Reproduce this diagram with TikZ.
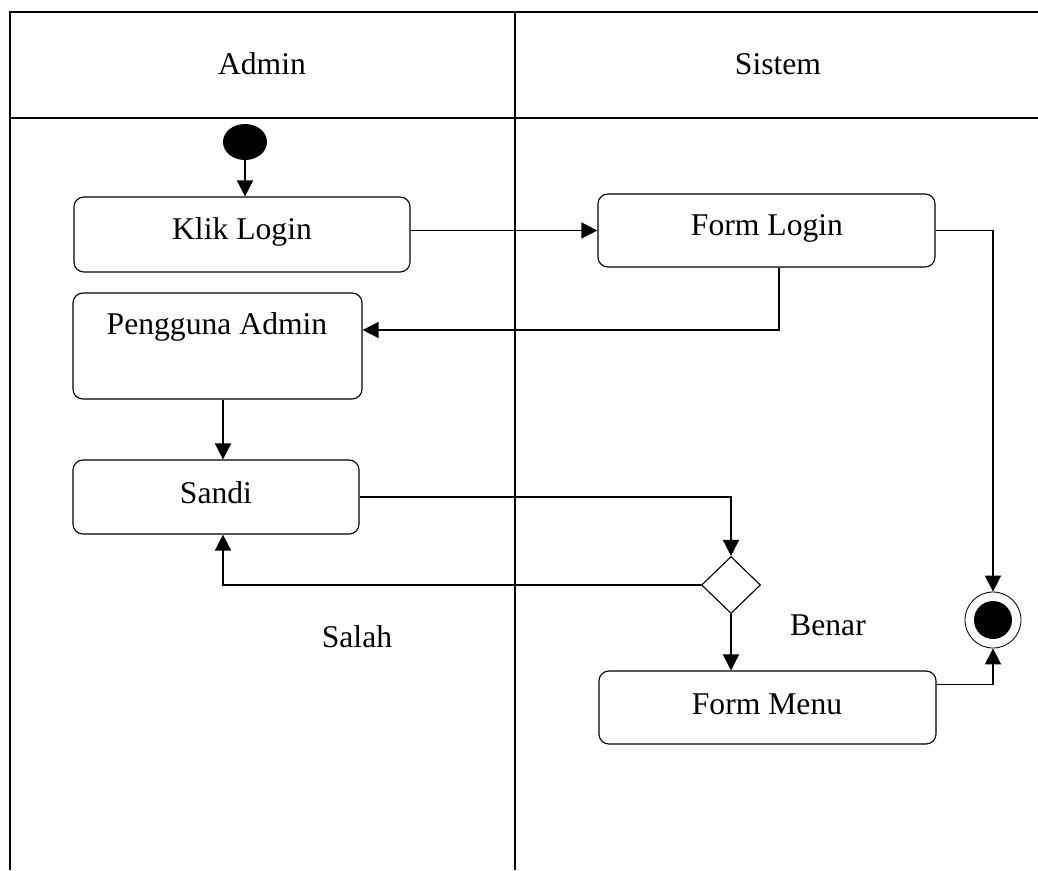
\documentclass[tikz,border=0pt]{standalone}
\usepackage{fontspec}
\setmainfont{Liberation Serif}
\usetikzlibrary{arrows.meta,shapes.geometric}

\begin{document}
\begin{tikzpicture}[x=0.025cm,y=-0.025cm,
  lane/.style={line width=1.2pt},
  act/.style={draw,rounded corners=0.25cm,line width=0.8pt,inner sep=0pt},
  lbl/.style={inner sep=0pt,font=\fontsize{22.5}{27}\selectfont},
  flow/.style={line width=1.1pt,-{Triangle[length=0.4cm,width=0.4cm]}}]
\useasboundingbox (0,0) rectangle (1038,870);

% swimlane frame
\draw[lane] (1038,12) -- (10,12) -- (10,870);
\draw[lane] (10,118) -- (1038,118);
\draw[lane] (515,12) -- (515,870);
\node[lbl] (hadmin) at (262,64) {Admin};
\node[lbl] (hsistem) at (778,64) {Sistem};

% start and end
\node[ellipse,fill=black,minimum width=1.1cm,minimum height=0.9cm,inner sep=0pt] (start) at (245,142) {};
\node[circle,draw,line width=0.6pt,minimum size=1.4cm,inner sep=0pt] (final) at (993,620) {};
\node[circle,fill=black,minimum size=0.95cm,inner sep=0pt] (finaldot) at (993,620) {};

% activities
\node[act,minimum width=8.4cm,minimum height=1.875cm] (klik) at (242,234.5) {};
\node[lbl] (tklik) at (242,232) {Klik Login};
\node[act,minimum width=8.425cm,minimum height=1.825cm] (flogin) at (766.5,230.5) {};
\node[lbl] (tflogin) at (767,228) {Form Login};
\node[act,minimum width=7.225cm,minimum height=2.65cm] (pengguna) at (217.5,346) {};
\node[lbl] (tpengguna) at (217,327) {Pengguna Admin};
\node[act,minimum width=7.15cm,minimum height=1.85cm] (sandi) at (216,497) {};
\node[lbl] (tsandi) at (216,493) {Sandi};
\node[act,minimum width=8.425cm,minimum height=1.825cm] (fmenu) at (767.5,707.5) {};
\node[lbl] (tfmenu) at (767,704) {Form Menu};
\node[diamond,draw,line width=0.8pt,minimum width=1.475cm,minimum height=1.425cm,inner sep=0pt] (dec) at (731,585) {};

% guards
\node[lbl] (salah) at (357,637) {Salah};
\node[lbl] (benar) at (828,625) {Benar};

% flows
\draw[flow] (start.south -| 245,0) -- (klik.north -| 245,0);
\draw[flow] (klik.east |- flogin.west) -- (flogin.west);
\draw[flow] (flogin.east) -| (final.north);
\draw[flow] (flogin.south -| 779,0) |- ([yshift=0.4cm]pengguna.east);
\draw[flow] (pengguna.south -| 223,0) -- (sandi.north -| 223,0);
\draw[flow] (sandi.east) -| (dec.north);
\draw[flow] (dec.west) -| (sandi.south -| 223,0);
\draw[flow] (dec.south) -- (dec.south |- fmenu.north);
\draw[flow] ([yshift=0.575cm]fmenu.east) -| (final.south);
\end{tikzpicture}
\end{document}
